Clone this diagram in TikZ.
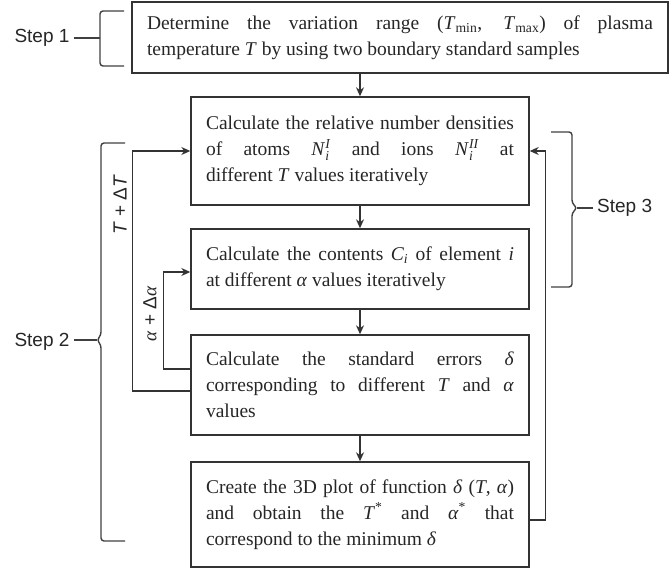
\documentclass[tikz,border=0pt]{standalone}
\usepackage{amsmath}
\usepackage{fontspec}
\setmainfont{Liberation Serif}
\newfontfamily\labelfont{Liberation Sans}
\usetikzlibrary{arrows.meta}

\tikzset{
    stepbox/.style={draw=black!80, line width=1.4pt, text=black!85, inner xsep=15pt, inner ysep=0pt,
        align=justify, font=\fontsize{19.5}{26}\selectfont, execute at begin node={\setlength{\parindent}{0pt}}},
    flow/.style={draw=black!80, line width=1.3pt, -{Stealth[length=9pt, width=8pt]}},
    brace/.style={draw=black!75, line width=1.4pt, rounded corners=3pt},
    steplabel/.style={text=black!85, inner sep=4pt, font=\labelfont\fontsize{19}{22}\selectfont}
}

% one justified line inside a box
\newcommand{\jl}[1]{\makebox[\hsize][s]{\spaceskip=0pt #1}\\}
\newcommand{\Nion}[1]{\textit{N}$^{\textit{#1}}_{\textit{i}}$}

\begin{document}
\begin{tikzpicture}[x=1pt, y=-1pt]

        \useasboundingbox (0, 0) rectangle (672, 570);

        \node[stepbox, text width=506pt, minimum height=71pt] (box1) at (400, 37.5)
            {\jl{Determine the variation range (\textit{T}\textsubscript{min}, \textit{T}\textsubscript{max}) of plasma}
             temperature \textit{T} by using two boundary standard samples};

        \node[stepbox, text width=308pt, minimum height=108pt] (box2) at (360, 151)
            {\jl{Calculate the relative number densities}
             \jl{of atoms \Nion{I} and ions \Nion{II} at}
             different \textit{T} values iteratively};

        \node[stepbox, text width=308pt, minimum height=80pt] (box3) at (360, 269)
            {\jl{Calculate the contents \textit{C}\textsubscript{\textit{i}} of element \textit{i}}
             at different \textit{α} values iteratively};

        \node[stepbox, text width=308pt, minimum height=100pt] (box4) at (360, 385)
            {\jl{Calculate the standard errors \textit{δ}}
             \jl{corresponding to different \textit{T} and \textit{α}}
             values};

        \node[stepbox, text width=308pt, minimum height=105pt] (box5) at (360, 514.5)
            {\jl{Create the 3D plot of function \textit{δ} (\textit{T}, \textit{α})}
             \jl{and obtain the \textit{T}\textsuperscript{*} and \textit{α}\textsuperscript{*} that}
             correspond to the minimum \textit{δ}};

        \foreach \a/\b in {box1/box2, box2/box3, box3/box4, box4/box5} {
            \draw[flow] (\b.north |- \a.south) -- (\b.north);
        }

        % loops back on the left
        \draw[flow] ([yshift=-6pt]box4.west) -- ++(-58, 0) |- (box2.west);
        \draw[flow] ([yshift=16pt]box4.west) -- ++(-27, 0) |- ([yshift=-3pt]box3.west);
        \node[steplabel, rotate=90] (dT) at (120, 205) {\textit{T} + Δ\textit{T}};
        \node[steplabel, rotate=90] (da) at (150, 314) {{\rmfamily\itshape α} + Δ{\rmfamily\itshape α}};

        % loop back on the right
        \draw[flow] ([yshift=-5.5pt]box5.east) -- ++(16, 0) |- (box2.east);

        % step braces
        \coordinate (tip1) at (100, 38);
        \coordinate (tip2) at (97, 340);
        \coordinate (tip3) at (577, 208);
        \draw[brace] (124, 11) -- (100, 11) -- (100, 66) -- (124, 66);
        \draw[brace] (125, 143) -- (101, 143) -- (101, 335) -- (tip2) -- (101, 345) -- (101, 541) -- (125, 541);
        \draw[brace] (551, 132) -- (572, 132) -- (572, 203) -- (tip3) -- (572, 213) -- (572, 287) -- (551, 287);

        \node[steplabel] (step1) at (42, 38) {Step 1};
        \node[steplabel] (step2) at (42, 342) {Step 2};
        \node[steplabel, anchor=west] (step3) at (593, 208) {Step 3};
        \draw[brace] (step1.east) -- (tip1);
        \draw[brace] (step2.east |- tip2) -- (tip2);
        \draw[brace] (step3.west) -- (tip3);

    \end{tikzpicture}
\end{document}
